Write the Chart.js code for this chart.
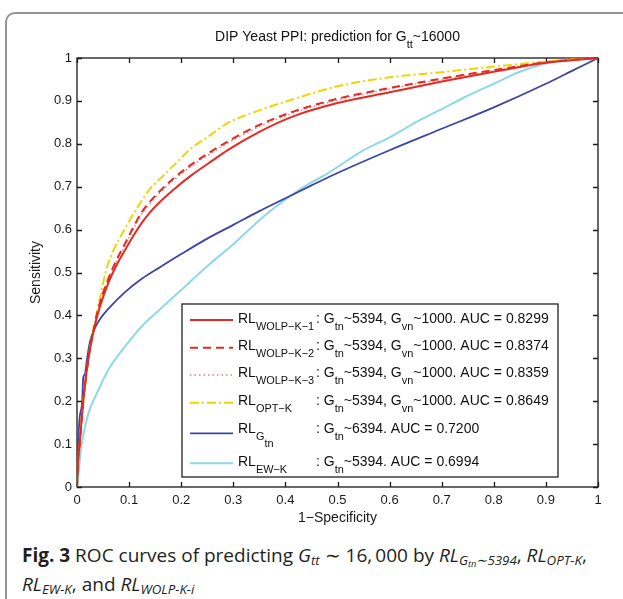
<!DOCTYPE html>
<html>
<head>
<meta charset="utf-8">
<script src="https://cdn.jsdelivr.net/npm/chart.js@4.4.1/dist/chart.umd.min.js"></script>
<style>
  html, body { margin: 0; padding: 0; background: #fff; }
  body { width: 623px; height: 599px; position: relative; overflow: hidden; }
  #frame { position: absolute; left: 5px; top: 12px; width: 700px; height: 700px;
           border: 2px solid #939393; border-radius: 10px; box-sizing: border-box; }
  #wrap { position: absolute; left: 0; top: 0; width: 623px; height: 530px; }
  #caption { position: absolute; left: 22px; top: 541px; font-family: 'Open Sans', sans-serif;
             font-size: 19px; line-height: 29px; color: #231f20; white-space: nowrap; }
  #caption sub { font-size: 70%; vertical-align: -0.25em; line-height: 0; }
</style>
</head>
<body>
<div id="frame"></div>
<div id="wrap"><canvas id="roc" width="623" height="530"></canvas></div>
<div id="caption">
  <b>Fig. 3</b> ROC curves of predicting <i>G<sub>tt</sub></i> &#8764; 16,&#8201;000 by <i>RL<sub>G<sub>tn</sub>&#8764;5394</sub></i>, <i>RL<sub>OPT-K</sub></i>,<br>
  <i>RL<sub>EW-K</sub></i>, and <i>RL<sub>WOLP-K-i</sub></i>
</div>
<script>
// ticks
const tickValues = [0, 0.1, 0.2, 0.3, 0.4, 0.5, 0.6, 0.7, 0.8, 0.9, 1];
const tickLabels = ['0', '0.1', '0.2', '0.3', '0.4', '0.5', '0.6', '0.7', '0.8', '0.9', '1'];

// RL WOLP-K-1
const fprWolp1 = [0, 0.002, 0.005, 0.012, 0.022, 0.035, 0.044, 0.06, 0.075, 0.092, 0.108, 0.124, 0.14, 0.156, 0.188, 0.22, 0.252, 0.29, 0.35, 0.415, 0.5, 0.6, 0.7, 0.8, 0.9, 0.95, 1];
const tprWolp1 = [0, 0.06, 0.1, 0.2, 0.3, 0.38, 0.42, 0.475, 0.515, 0.552, 0.585, 0.615, 0.64, 0.661, 0.696, 0.727, 0.754, 0.786, 0.828, 0.864, 0.895, 0.92, 0.945, 0.968, 0.989, 0.995, 1];
// RL WOLP-K-2
const fprWolp2 = [0, 0.002, 0.005, 0.012, 0.022, 0.035, 0.044, 0.06, 0.075, 0.092, 0.108, 0.124, 0.14, 0.156, 0.188, 0.22, 0.252, 0.29, 0.35, 0.415, 0.5, 0.6, 0.7, 0.8, 0.9, 0.95, 1];
const tprWolp2 = [0, 0.06, 0.1, 0.2, 0.3, 0.385, 0.43, 0.485, 0.527, 0.567, 0.605, 0.64, 0.665, 0.686, 0.722, 0.752, 0.778, 0.806, 0.844, 0.875, 0.905, 0.93, 0.952, 0.972, 0.99, 0.996, 1];
// RL WOLP-K-3
const fprWolp3 = [0, 0.002, 0.005, 0.012, 0.022, 0.035, 0.044, 0.06, 0.075, 0.092, 0.108, 0.124, 0.14, 0.156, 0.188, 0.22, 0.252, 0.29, 0.35, 0.415, 0.5, 0.6, 0.7, 0.8, 0.9, 0.95, 1];
const tprWolp3 = [0, 0.06, 0.1, 0.2, 0.3, 0.383, 0.428, 0.482, 0.524, 0.563, 0.601, 0.636, 0.661, 0.682, 0.718, 0.748, 0.774, 0.802, 0.84, 0.872, 0.902, 0.928, 0.95, 0.97, 0.99, 0.996, 1];
// RL OPT-K
const fprOpt = [0, 0.002, 0.005, 0.012, 0.022, 0.035, 0.044, 0.057, 0.07, 0.09, 0.115, 0.14, 0.165, 0.19, 0.22, 0.25, 0.29, 0.35, 0.415, 0.5, 0.6, 0.7, 0.8, 0.9, 0.95, 1];
const tprOpt = [0, 0.06, 0.1, 0.2, 0.3, 0.39, 0.44, 0.51, 0.552, 0.598, 0.65, 0.695, 0.725, 0.755, 0.79, 0.815, 0.849, 0.878, 0.904, 0.934, 0.955, 0.967, 0.98, 0.992, 0.997, 1];
// RL G_tn
const fprGtn = [0, 0.002, 0.005, 0.01, 0.012, 0.015, 0.019, 0.025, 0.035, 0.045, 0.06, 0.09, 0.125, 0.16, 0.2, 0.25, 0.3, 0.35, 0.4, 0.45, 0.5, 0.6, 0.7, 0.8, 0.9, 0.95, 1];
const tprGtn = [0, 0.1, 0.16, 0.2, 0.255, 0.262, 0.296, 0.339, 0.372, 0.393, 0.415, 0.452, 0.486, 0.513, 0.543, 0.579, 0.611, 0.643, 0.673, 0.703, 0.732, 0.785, 0.835, 0.885, 0.94, 0.97, 1];
// RL EW-K
const fprEw = [0, 0.004, 0.009, 0.022, 0.038, 0.06, 0.092, 0.124, 0.16, 0.207, 0.252, 0.3, 0.35, 0.38, 0.444, 0.473, 0.514, 0.55, 0.6, 0.65, 0.7, 0.75, 0.8, 0.85, 0.9, 0.95, 1];
const tprEw = [0, 0.047, 0.1, 0.172, 0.218, 0.273, 0.327, 0.374, 0.415, 0.467, 0.517, 0.566, 0.622, 0.652, 0.706, 0.725, 0.757, 0.785, 0.815, 0.85, 0.881, 0.912, 0.94, 0.968, 0.987, 0.996, 1];

// legend texts, _{...} marks a subscript
const legendNames = ['RL_{WOLP−K−1}', 'RL_{WOLP−K−2}', 'RL_{WOLP−K−3}', 'RL_{OPT−K}', 'RL_{G_{tn}}', 'RL_{EW−K}'];
const legendInfo = [
  ': G_{tn}~5394, G_{vn}~1000. AUC = 0.8299',
  ': G_{tn}~5394, G_{vn}~1000. AUC = 0.8374',
  ': G_{tn}~5394, G_{vn}~1000. AUC = 0.8359',
  ': G_{tn}~5394, G_{vn}~1000. AUC = 0.8649',
  ': G_{tn}~6394. AUC = 0.7200',
  ': G_{tn}~5394. AUC = 0.6994'
];
const chartTitle = 'DIP Yeast PPI: prediction for G_{tt}~16000';

const FONT = "'Liberation Sans', Arial, sans-serif";
const pts = (xs, ys) => xs.map((x, i) => ({ x: x, y: ys[i] }));

// split a string with _{..} into pieces with a depth
function parseRich(str) {
  const out = [];
  let level = 0, buf = '';
  for (let i = 0; i < str.length; i++) {
    const c = str[i];
    if (c === '_' && str[i + 1] === '{') {
      if (buf) out.push({ t: buf, l: level });
      buf = ''; level++; i++;
    } else if (c === '}') {
      if (buf) out.push({ t: buf, l: level });
      buf = ''; level--;
    } else {
      buf += c;
    }
  }
  if (buf) out.push({ t: buf, l: level });
  return out;
}

function drawRich(ctx, str, x, y, size, measureOnly) {
  parseRich(str).forEach(p => {
    const s = p.l === 0 ? size : size * 0.78;
    ctx.font = s + 'px ' + FONT;
    if (!measureOnly) ctx.fillText(p.t, x, y + p.l * 7);
    x += ctx.measureText(p.t).width;
  });
  return x;
}

// box, inward ticks, title and legend
const matlabLook = {
  id: 'matlabLook',
  beforeDatasetsDraw(chart) {
    const { ctx, chartArea: a } = chart;
    const xs = chart.scales.x, ys = chart.scales.y;
    ctx.save();
    ctx.strokeStyle = '#1a1a1a';
    ctx.lineWidth = 1.3;
    ctx.strokeRect(a.left, a.top, a.right - a.left, a.bottom - a.top);
    ctx.beginPath();
    tickValues.forEach(v => {
      const px = Math.round(xs.getPixelForValue(v)) + 0.5;
      ctx.moveTo(px, a.bottom); ctx.lineTo(px, a.bottom - 5);
      ctx.moveTo(px, a.top); ctx.lineTo(px, a.top + 5);
      const py = Math.round(ys.getPixelForValue(v)) + 0.5;
      ctx.moveTo(a.left, py); ctx.lineTo(a.left + 5, py);
      ctx.moveTo(a.right, py); ctx.lineTo(a.right - 5, py);
    });
    ctx.stroke();
    ctx.restore();
  },
  afterDraw(chart) {
    const { ctx, chartArea: a } = chart;
    ctx.save();
    ctx.fillStyle = '#111';
    ctx.textBaseline = 'alphabetic';
    // title
    const tw = drawRich(ctx, chartTitle, 0, 0, 14, true);
    drawRich(ctx, chartTitle, (a.left + a.right) / 2 - tw / 2, 41, 14);

    // legend
    const bx = 182, by = 304, bw = 376, bh = 173;
    ctx.fillStyle = '#fff';
    ctx.fillRect(bx, by, bw, bh);
    ctx.strokeStyle = '#222';
    ctx.lineWidth = 1.3;
    ctx.strokeRect(bx, by, bw, bh);
    const lineY = [320, 347.7, 375, 402.7, 433.3, 463.3];
    const baseY = [322.7, 349.7, 377, 404.5, 432.7, 466];
    chart.data.datasets.forEach((ds, i) => {
      ctx.strokeStyle = ds.borderColor;
      ctx.lineWidth = ds.borderWidth;
      ctx.setLineDash(ds.borderDash || []);
      ctx.beginPath();
      ctx.moveTo(190, lineY[i]); ctx.lineTo(233, lineY[i]);
      ctx.stroke();
      ctx.setLineDash([]);
      ctx.fillStyle = '#111';
      const xe = drawRich(ctx, legendNames[i], 238, baseY[i], 14);
      drawRich(ctx, legendInfo[i], Math.max(xe, 316), baseY[i], 14);
    });
    ctx.restore();
  }
};

const common = { pointRadius: 0, fill: false, cubicInterpolationMode: 'monotone' };

new Chart(document.getElementById('roc'), {
  type: 'line',
  data: {
    datasets: [
      { ...common, label: 'WOLP-K-1', data: pts(fprWolp1, tprWolp1), borderColor: '#e42a22', borderWidth: 2 },
      { ...common, label: 'WOLP-K-2', data: pts(fprWolp2, tprWolp2), borderColor: '#e42a22', borderWidth: 2, borderDash: [8, 5] },
      { ...common, label: 'WOLP-K-3', data: pts(fprWolp3, tprWolp3), borderColor: '#f07a78', borderWidth: 1.4, borderDash: [1.5, 3] },
      { ...common, label: 'OPT-K', data: pts(fprOpt, tprOpt), borderColor: '#f2d500', borderWidth: 2, borderDash: [9, 3, 2, 3] },
      { ...common, label: 'Gtn', data: pts(fprGtn, tprGtn), borderColor: '#3d44a6', borderWidth: 1.8 },
      { ...common, label: 'EW-K', data: pts(fprEw, tprEw), borderColor: '#8ed8e8', borderWidth: 2 }
    ]
  },
  options: {
    responsive: false,
    animation: false,
    layout: { padding: { left: 28, top: 58, right: 25, bottom: 3 } },
    plugins: { legend: { display: false }, tooltip: { enabled: false } },
    scales: {
      x: {
        type: 'linear', min: 0, max: 1,
        afterBuildTicks: s => { s.ticks = tickValues.map(v => ({ value: v })); },
        afterFit: s => { s.height = 40; },
        ticks: { callback: (v, i) => tickLabels[i], padding: 6, maxRotation: 0, autoSkip: false,
                 color: '#1a1a1a', font: { family: FONT, size: 13 } },
        grid: { display: false, drawTicks: false },
        border: { display: false },
        title: { display: true, text: '1−Specificity', color: '#1a1a1a', padding: 0,
                 font: { family: FONT, size: 14 } }
      },
      y: {
        type: 'linear', min: 0, max: 1,
        afterBuildTicks: s => { s.ticks = tickValues.map(v => ({ value: v })); },
        afterFit: s => { s.width = 49; },
        ticks: { callback: (v, i) => tickLabels[i], padding: 5, autoSkip: false,
                 color: '#1a1a1a', font: { family: FONT, size: 13 } },
        grid: { display: false, drawTicks: false },
        border: { display: false },
        title: { display: true, text: 'Sensitivity', color: '#1a1a1a', padding: 0,
                 font: { family: FONT, size: 14 } }
      }
    }
  },
  plugins: [matlabLook]
});
</script>
</body>
</html>
